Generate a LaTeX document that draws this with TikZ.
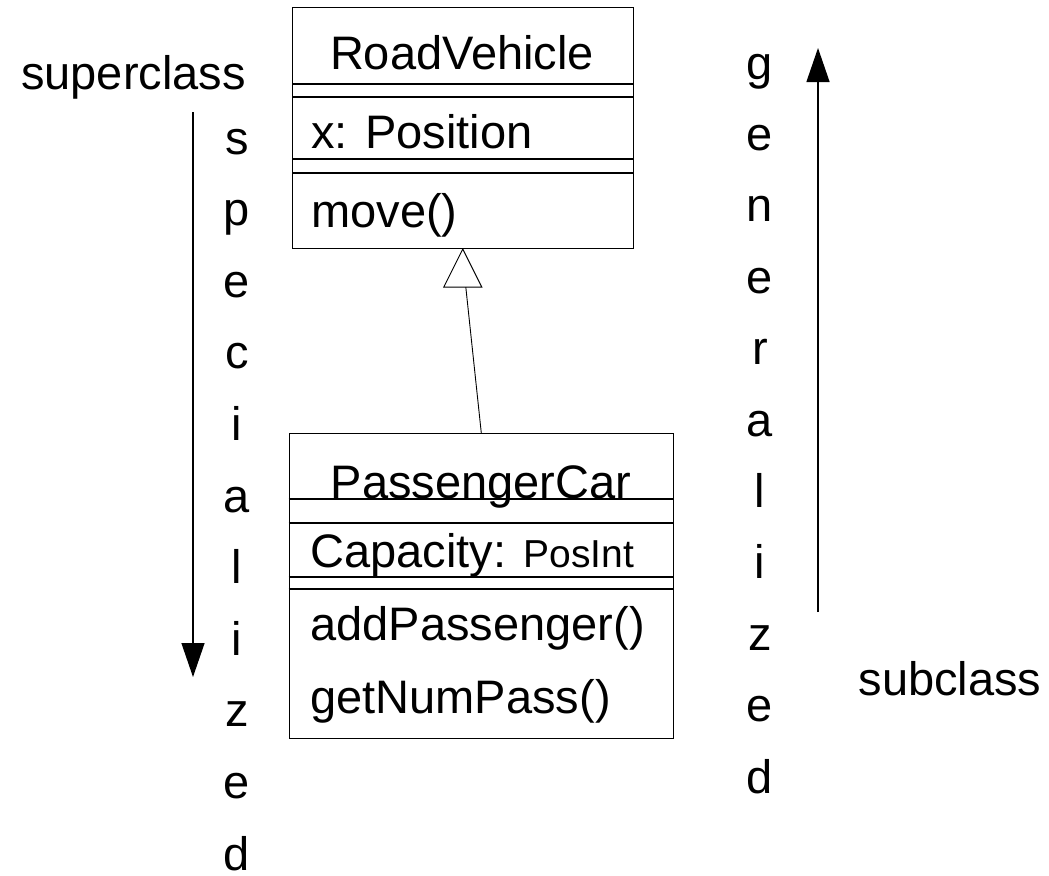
\documentclass[tikz,border=0pt]{standalone}
\usepackage{fontspec}
\setmainfont{Liberation Sans}
\usetikzlibrary{arrows.meta,calc}
\begin{document}
\begin{tikzpicture}[x=0.5pt,y=-0.5pt,
  txt/.style={inner sep=0pt, font=\fontsize{23.5}{28}\selectfont},
  cls/.style={draw, line width=0.55pt, inner sep=0pt, anchor=north west},
  sepline/.style={line width=0.55pt},
  dirarrow/.style={line width=0.65pt, -{Triangle[width=11.5pt,length=17pt]}},
  genline/.style={line width=0.45pt}
]
\useasboundingbox (0,0) rectangle (1049,875);

% RoadVehicle class
\node[cls, minimum width=170.25pt, minimum height=120.5pt] (rv) at (292,7) {};
\draw[sepline] ($(rv.north west)+(0,77)$) -- ($(rv.north east)+(0,77)$);
\draw[sepline] ($(rv.north west)+(0,90)$) -- ($(rv.north east)+(0,90)$);
\draw[sepline] ($(rv.north west)+(0,152)$) -- ($(rv.north east)+(0,152)$);
\draw[sepline] ($(rv.north west)+(0,166)$) -- ($(rv.north east)+(0,166)$);
\node[txt, anchor=base] (rvname) at (462,69) {RoadVehicle};
\node[txt, anchor=base west] (rvattr) at (311,148) {x: Position};
\node[txt, anchor=base west] (rvop) at (311,227) {move()};

% PassengerCar class
\node[cls, minimum width=192.25pt, minimum height=152.5pt] (pc) at (288.5,433) {};
\draw[sepline] ($(pc.north west)+(0,66)$) -- ($(pc.north east)+(0,66)$);
\draw[sepline] ($(pc.north west)+(0,90)$) -- ($(pc.north east)+(0,90)$);
\draw[sepline] ($(pc.north west)+(0,144)$) -- ($(pc.north east)+(0,144)$);
\draw[sepline] ($(pc.north west)+(0,156)$) -- ($(pc.north east)+(0,156)$);
\node[txt, anchor=base] (pcname) at (481,498) {PassengerCar};
\node[txt, anchor=base west] (pcattr) at (310,567) {Capacity: {\fontsize{19.5}{23}\selectfont PosInt}};
\node[txt, anchor=base west] (pcop1) at (310,640) {addPassenger()};
\node[txt, anchor=base west] (pcop2) at (310,713) {getNumPass()};

% generalization
\coordinate (tribase) at ($(rv.south)+(3,38)$);
\draw[genline] (pc.north) -- (tribase);
\draw[genline, fill=white] (rv.south) -- ++(-19,38) -- ++(38,0) -- cycle;

% direction arrows
\coordinate (spstart) at (193,112);
\coordinate (spend) at (193,677);
\draw[dirarrow] (spstart) -- (spend);
\coordinate (gstart) at (818,612);
\coordinate (gend) at (818,48);
\draw[dirarrow] (gstart) -- (gend);

% labels
\node[txt, anchor=base] (super) at (133.5,89) {superclass};
\node[txt, anchor=base] (sub) at (950,695) {subclass};
\foreach \ch [count=\i from 0] in {s,p,e,c,i,a,l,i,z,e,d}
  \node[txt, anchor=base] (sp\i) at (237,{154+71.6*\i}) {\ch};
\foreach \ch [count=\i from 0] in {g,e,n,e,r,a,l,i,z,e,d}
  \node[txt, anchor=base] (ge\i) at (760,{79+71.4*\i}) {\ch};
\end{tikzpicture}
\end{document}
